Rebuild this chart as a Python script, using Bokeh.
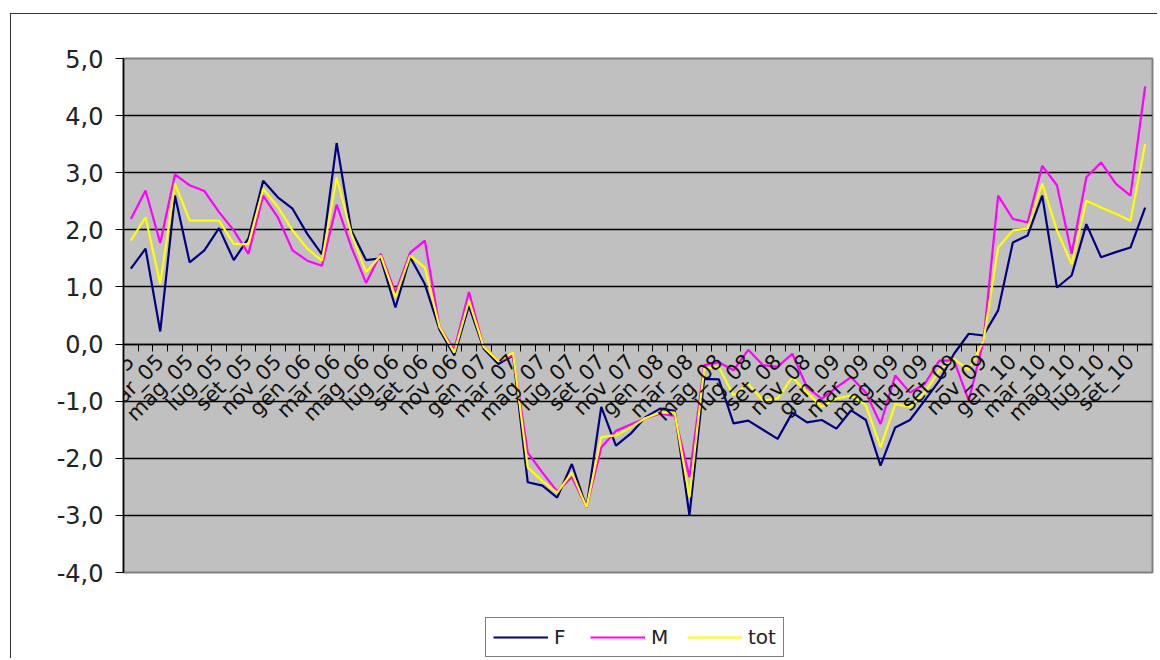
import math
from bokeh.plotting import figure
from bokeh.layouts import column
from bokeh.models import LinearAxis, FixedTicker, Range1d, Legend, LegendItem
from bokeh.embed import file_html
from bokeh.resources import INLINE

months = ["gen", "feb", "mar", "apr", "mag", "giu", "lug", "ago", "set", "ott", "nov", "dic"]
years = ["05", "06", "07", "08", "09", "10"]
categories = [f"{m}_{y}" for y in years for m in months][:70]

F = [1.32, 1.67, 0.22, 2.6, 1.43, 1.64, 2.03, 1.47, 1.85, 2.86,
     2.57, 2.37, 1.93, 1.57, 3.52, 1.99, 1.47, 1.5, 0.64, 1.52,
     1.05, 0.25, -0.2, 0.67, -0.08, -0.35, -0.2, -2.42, -2.48, -2.69,
     -2.1, -2.86, -1.1, -1.78, -1.57, -1.28, -1.13, -1.17, -3.0, -0.61,
     -0.62, -1.39, -1.34, -1.5, -1.66, -1.2, -1.37, -1.33, -1.48, -1.16,
     -1.33, -2.13, -1.46, -1.33, -0.99, -0.64, -0.17, 0.18, 0.15, 0.59,
     1.78, 1.9, 2.6, 0.99, 1.2, 2.1, 1.52, 1.61, 1.69, 2.39]
M = [2.19, 2.69, 1.77, 2.97, 2.78, 2.68, 2.31, 1.99, 1.58, 2.6,
     2.22, 1.64, 1.46, 1.37, 2.44, 1.7, 1.07, 1.58, 0.9, 1.6,
     1.81, 0.3, -0.1, 0.91, -0.05, -0.3, -0.2, -1.9, -2.25, -2.58,
     -2.33, -2.86, -1.81, -1.52, -1.41, -1.3, -1.22, -1.26, -2.33, -0.37,
     -0.32, -0.46, -0.1, -0.37, -0.4, -0.17, -0.76, -0.96, -0.76, -0.58,
     -0.85, -1.4, -0.55, -0.85, -0.7, -0.29, -0.29, -0.99, 0.05, 2.6,
     2.19, 2.13, 3.12, 2.78, 1.58, 2.92, 3.18, 2.81, 2.6, 4.51]
TOT = [1.81, 2.22, 1.05, 2.81, 2.16, 2.16, 2.16, 1.75, 1.75, 2.72,
       2.4, 1.99, 1.67, 1.46, 2.92, 1.93, 1.26, 1.55, 0.82, 1.55,
       1.34, 0.3, -0.15, 0.76, -0.05, -0.3, -0.15, -2.16, -2.4, -2.6,
       -2.25, -2.86, -1.63, -1.6, -1.46, -1.3, -1.2, -1.2, -2.68, -0.43,
       -0.4, -0.9, -0.69, -0.99, -0.95, -0.58, -0.85, -1.1, -0.95, -0.9,
       -1.07, -1.81, -1.05, -1.1, -0.85, -0.46, -0.26, -0.46, 0.05, 1.69,
       1.99, 2.02, 2.81, 1.99, 1.4, 2.51, 2.39, 2.28, 2.16, 3.5]

y_ticks = [-4, -3, -2, -1, 0, 1, 2, 3, 4, 5]
y_tick_labels = ["-4,0", "-3,0", "-2,0", "-1,0", "0,0", "1,0", "2,0", "3,0", "4,0", "5,0"]
series_names = ["F", "M", "tot"]
series_colors = ["#000080", "#FF00FF", "#FFFF00"]
series_values = [F, M, TOT]

n = len(categories)
xs = list(range(n))

# ---------------- main chart ----------------
p = figure(width=1146, height=574, output_backend="svg", toolbar_location=None,
           x_range=Range1d(-0.5, n - 0.5), y_range=Range1d(-4, 5),
           x_axis_location=None,
           min_border_left=112, min_border_right=5, min_border_top=44, min_border_bottom=16)

p.background_fill_color = "#C0C0C0"
p.border_fill_color = "white"
p.outline_line_color = "#808080"
p.outline_line_width = 2

p.yaxis.ticker = FixedTicker(ticks=y_ticks)
p.yaxis.major_label_overrides = {t: lab for t, lab in zip(y_ticks, y_tick_labels)}
p.yaxis.major_label_text_font = "DejaVu Sans"
p.yaxis.major_label_text_font_size = "24px"
p.yaxis.major_label_text_color = "#222222"
p.yaxis.major_label_standoff = 12
p.yaxis.axis_line_color = "black"
p.yaxis.axis_line_width = 1.5
p.yaxis.major_tick_in = 0
p.yaxis.major_tick_out = 8
p.yaxis.major_tick_line_color = "black"
p.yaxis.minor_tick_line_color = None

p.xgrid.visible = False
p.ygrid.ticker = FixedTicker(ticks=[t for t in y_ticks if -4 < t < 5])
p.ygrid.grid_line_color = "black"
p.ygrid.grid_line_width = 1.5

# category axis drawn at y = 0: tick marks at category boundaries
tick_axis = LinearAxis(fixed_location=0,
                       ticker=FixedTicker(ticks=[i + 0.5 for i in range(n - 1)]))
tick_axis.major_label_overrides = {i + 0.5: "" for i in range(n - 1)}
tick_axis.major_tick_in = 0
tick_axis.major_tick_out = 7
tick_axis.major_tick_line_color = "black"
tick_axis.minor_tick_line_color = None
tick_axis.axis_line_color = "black"
tick_axis.axis_line_width = 1.5
p.add_layout(tick_axis, "below")

# category labels (every second month), rotated
label_axis = LinearAxis(fixed_location=0, ticker=FixedTicker(ticks=xs[::2]))
label_axis.major_label_overrides = {i: categories[i] for i in xs[::2]}
label_axis.major_label_orientation = math.pi / 4
label_axis.major_label_text_font = "DejaVu Sans"
label_axis.major_label_text_font_size = "21px"
label_axis.major_label_text_color = "#111111"
label_axis.major_label_standoff = 14
label_axis.major_tick_in = 0
label_axis.major_tick_out = 0
label_axis.minor_tick_line_color = None
label_axis.axis_line_color = None
p.add_layout(label_axis, "below")

for vals, col in zip(series_values, series_colors):
    p.line(xs, vals, line_color=col, line_width=2.2)

# ---------------- legend strip ----------------
q = figure(width=1146, height=70, output_backend="svg", toolbar_location=None,
           x_range=p.x_range, y_range=Range1d(100, 101),
           x_axis_location=None, y_axis_location=None,
           min_border_left=112, min_border_right=5, min_border_top=0, min_border_bottom=0)
q.outline_line_color = None
q.background_fill_color = "white"
q.border_fill_color = "white"
q.xgrid.visible = False
q.ygrid.visible = False

legend_renderers = []
for vals, col in zip(series_values, series_colors):
    legend_renderers.append(q.line(xs, vals, line_color=col, line_width=2.2))

legend = Legend(items=[LegendItem(label=nm, renderers=[r]) for nm, r in zip(series_names, legend_renderers)],
                orientation="horizontal", location=(362, 1))
legend.border_line_color = "black"
legend.border_line_width = 1
legend.background_fill_color = "white"
legend.background_fill_alpha = 1
legend.label_text_font = "DejaVu Sans"
legend.label_text_font_size = "20px"
legend.label_text_color = "#222222"
legend.glyph_width = 55
legend.glyph_height = 20
legend.label_standoff = 6
legend.spacing = 16
legend.padding = 7
legend.margin = 0
q.add_layout(legend)

layout = column(p, q)
layout.styles = {"margin-left": "10px", "margin-top": "13px",
                 "border-left": "1px solid #333", "border-top": "1px solid #333"}

open("out.html", "w").write(file_html(layout, INLINE))
